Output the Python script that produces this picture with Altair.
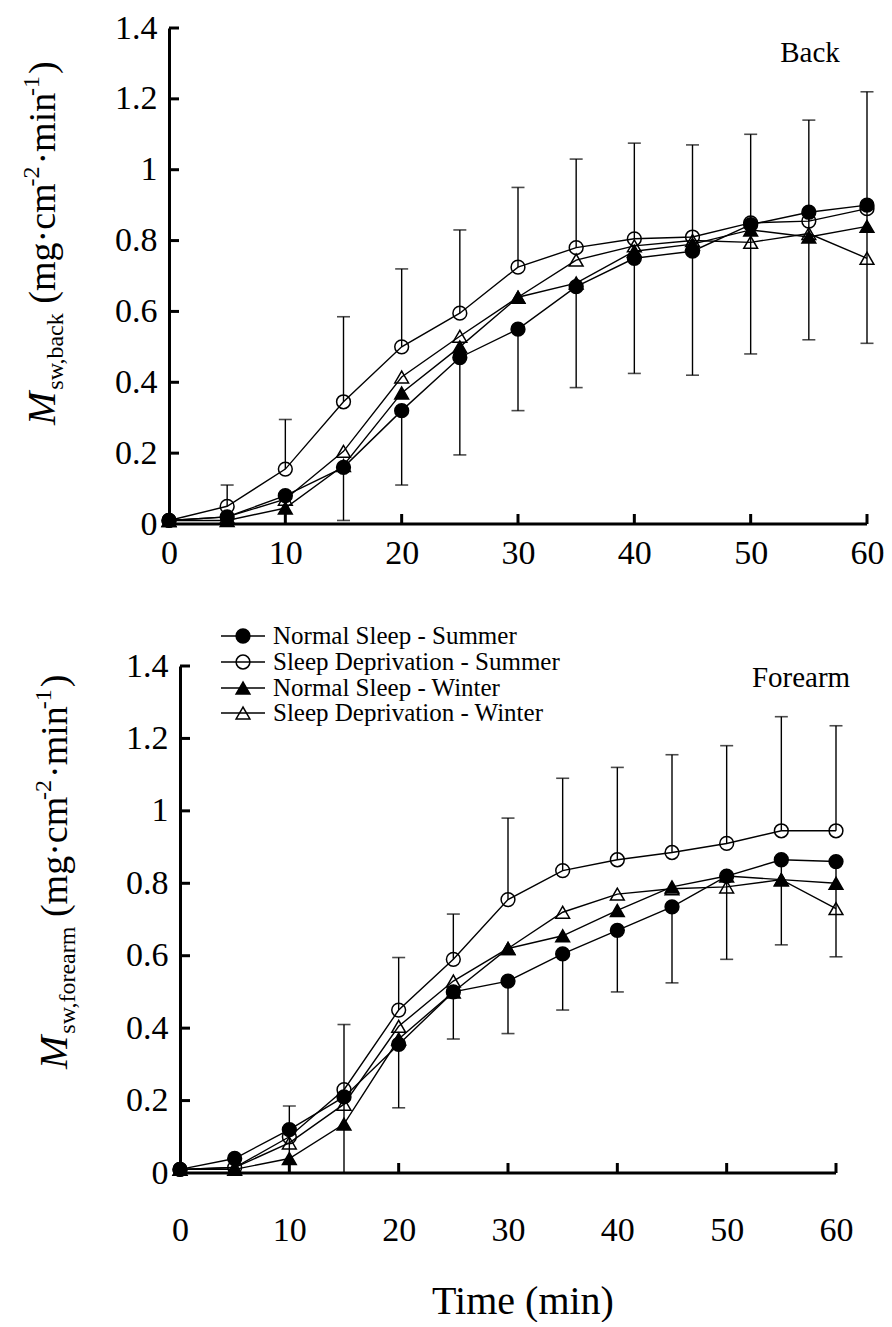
import altair as alt
import pandas as pd

FONT = "Liberation Serif"

times = [0, 5, 10, 15, 20, 25, 30, 35, 40, 45, 50, 55, 60]
series_names = [
    "Normal Sleep - Summer",
    "Sleep Deprivation - Summer",
    "Normal Sleep - Winter",
    "Sleep Deprivation - Winter",
]
x_ticks = [0, 10, 20, 30, 40, 50, 60]
y_ticks = [0, 0.2, 0.4, 0.6, 0.8, 1, 1.2, 1.4]

# ---- Back panel ----
back_ns_summer = [0.01, 0.02, 0.08, 0.16, 0.32, 0.47, 0.55, 0.67, 0.75, 0.77, 0.845, 0.88, 0.90]
back_sd_summer = [0.01, 0.05, 0.155, 0.345, 0.50, 0.595, 0.725, 0.78, 0.805, 0.81, 0.85, 0.855, 0.89]
back_ns_winter = [0.01, 0.01, 0.045, 0.165, 0.37, 0.50, 0.64, 0.68, 0.77, 0.79, 0.83, 0.81, 0.84]
back_sd_winter = [0.01, 0.02, 0.07, 0.205, 0.415, 0.53, 0.64, 0.745, 0.785, 0.80, 0.795, 0.82, 0.75]
back_err_upper = [None, 0.11, 0.295, 0.585, 0.72, 0.83, 0.95, 1.03, 1.075, 1.07, 1.10, 1.14, 1.22]
back_err_lower = [None, 0.0, 0.0, 0.01, 0.11, 0.195, 0.32, 0.385, 0.425, 0.42, 0.48, 0.52, 0.51]

# ---- Forearm panel ----
fa_ns_summer = [0.01, 0.04, 0.12, 0.21, 0.355, 0.50, 0.53, 0.605, 0.67, 0.735, 0.82, 0.865, 0.86]
fa_sd_summer = [0.01, 0.015, 0.10, 0.23, 0.45, 0.59, 0.755, 0.835, 0.865, 0.885, 0.91, 0.945, 0.945]
fa_ns_winter = [0.01, 0.01, 0.04, 0.135, 0.37, 0.50, 0.62, 0.655, 0.725, 0.79, 0.82, 0.81, 0.80]
fa_sd_winter = [0.01, 0.015, 0.083, 0.19, 0.405, 0.53, 0.62, 0.72, 0.77, 0.785, 0.79, 0.81, 0.73]
fa_err_upper = [None, None, 0.185, 0.41, 0.595, 0.715, 0.98, 1.09, 1.12, 1.155, 1.18, 1.26, 1.235]
fa_err_lower = [None, None, 0.0, 0.0, 0.18, 0.37, 0.385, 0.45, 0.50, 0.525, 0.59, 0.63, 0.597]

shape_scale = alt.Scale(domain=series_names,
                        range=["circle", "circle", "triangle-up", "triangle-up"])
fill_scale = alt.Scale(domain=series_names,
                       range=["black", "transparent", "black", "transparent"])
size_scale = alt.Scale(domain=series_names, range=[190, 190, 230, 230])

W_TIMES = {'(': 333, ')': 333, 'm': 778, 'g': 500, 'c': 444, 'i': 278, 'n': 500,
           '·': 250, '-': 333, '2': 500, '1': 500, 's': 389, 'w': 722, ',': 250,
           'b': 500, 'a': 444, 'k': 500, 'f': 333, 'o': 500, 'r': 333, 'e': 444,
           'M': 833, ' ': 250}


def tw(s, fs):
    return sum(W_TIMES.get(c, 500) for c in s) * fs / 1000.0


dummy = pd.DataFrame({"k": [0]})


def text_layer(txt, x, y, fs, angle=0, align="center", baseline="middle", style="normal"):
    kw = dict(text=txt, align=align, baseline=baseline, font=FONT, fontSize=fs,
              fontStyle=style, color="black")
    if angle:
        kw["angle"] = angle
    return alt.Chart(dummy).mark_text(**kw).encode(x=alt.value(x), y=alt.value(y))


def ytitle_layers(bx, by, sub):
    F, S = 38, 24
    pieces = [("M", 40, 0, "italic", 2), (sub, S, 8, "normal", 8),
              ("(mg·cm", F, 0, "normal", 0), ("-2", S, -16, "normal", 2),
              ("·min", F, 0, "normal", 0), ("-1", S, -16, "normal", 2),
              (")", F, 0, "normal", 0)]
    layers = []
    y = by
    for txt, fs, shift, style, gap in pieces:
        layers.append(text_layer(txt, bx + shift, y, fs, angle=270, align="left",
                                 baseline="alphabetic", style=style))
        y -= tw(txt, fs) + gap
    return layers


def build_panel(vals, up, lo, W, H, x0, sub, label, label_xy, xlab_pad,
                legend=False, xtitle=False):
    xmin = -x0 * 60.0 / (W - x0)
    xs = alt.Scale(domain=[xmin, 60], nice=False, zero=False)
    ys = alt.Scale(domain=[0, 1.4], nice=False, zero=False)

    rows = []
    for name, v in zip(series_names, vals):
        for t, val in zip(times, v):
            rows.append({"t": t, "v": val, "series": name})
    df = pd.DataFrame(rows)

    erows = []
    for t, u, l, s_up, s_lo in zip(times, up, lo, vals[1], vals[0]):
        if u is not None:
            erows.append({"t": t, "start": s_up, "end": u})
        if l is not None:
            erows.append({"t": t, "start": s_lo, "end": l})
    edf = pd.DataFrame(erows)

    lines = alt.Chart(df).mark_line(color="black", strokeWidth=1.4).encode(
        x=alt.X("t:Q", scale=xs, axis=alt.Axis(
            values=x_ticks, domain=False, ticks=False, grid=False, title=None,
            labelFont=FONT, labelFontSize=34, labelColor="black",
            labelPadding=xlab_pad, labelFlush=False)),
        y=alt.Y("v:Q", scale=ys, axis=alt.Axis(
            values=y_ticks, format="~g", offset=-x0, domain=True, domainWidth=3,
            domainColor="black", ticks=False, grid=False, title=None,
            labelFont=FONT, labelFontSize=34, labelColor="black",
            labelPadding=12)),
        detail="series:N",
        order="t:Q",
    )
    bars = alt.Chart(edf).mark_rule(color="black", strokeWidth=1.4).encode(
        x=alt.X("t:Q", scale=xs), y=alt.Y("start:Q", scale=ys), y2="end:Q")
    caps = alt.Chart(edf).mark_tick(color="black", orient="horizontal", size=13,
                                    thickness=1.6).encode(
        x=alt.X("t:Q", scale=xs), y=alt.Y("end:Q", scale=ys))
    pts = alt.Chart(df).mark_point(filled=True, stroke="black", strokeWidth=1.5,
                                   opacity=1).encode(
        x=alt.X("t:Q", scale=xs), y=alt.Y("v:Q", scale=ys),
        shape=alt.Shape("series:N", scale=shape_scale, legend=None),
        fill=alt.Fill("series:N", scale=fill_scale, legend=None),
        size=alt.Size("series:N", scale=size_scale, legend=None),
    )
    axis_line = alt.Chart(pd.DataFrame({"a": [0], "b": [60], "c": [0]})).mark_rule(
        color="black", strokeWidth=3).encode(
        x=alt.X("a:Q", scale=xs), x2="b:Q", y=alt.Y("c:Q", scale=ys))
    xt = alt.Chart(pd.DataFrame({"tv": x_ticks[1:]})).mark_rule(
        color="black", strokeWidth=3).encode(
        x=alt.X("tv:Q", scale=xs), y=alt.value(H), y2=alt.value(H - 10))
    yt = alt.Chart(pd.DataFrame({"tv": y_ticks[1:]})).mark_rule(
        color="black", strokeWidth=3).encode(
        y=alt.Y("tv:Q", scale=ys), x=alt.value(x0), x2=alt.value(x0 + 10))

    layers = [axis_line, xt, yt, lines, bars, caps, pts]
    layers += ytitle_layers(*sub)
    layers.append(text_layer(label, label_xy[0], label_xy[1], 29))

    if legend:
        leg_px = [-30, -4, 22, 47]
        ldf = pd.DataFrame({"series": series_names,
                            "ly": [1.4 * (1 - p / H) for p in leg_px]})
        lrule = alt.Chart(ldf).mark_rule(color="black", strokeWidth=1.4).encode(
            y=alt.Y("ly:Q", scale=ys), x=alt.value(54), x2=alt.value(98))
        lpts = alt.Chart(ldf).mark_point(filled=True, stroke="black",
                                         strokeWidth=1.5, opacity=1).encode(
            y=alt.Y("ly:Q", scale=ys), x=alt.value(76),
            shape=alt.Shape("series:N", scale=shape_scale, legend=None),
            fill=alt.Fill("series:N", scale=fill_scale, legend=None),
            size=alt.Size("series:N", scale=size_scale, legend=None))
        ltxt = alt.Chart(ldf).mark_text(align="left", baseline="middle", font=FONT,
                                        fontSize=25, color="black").encode(
            y=alt.Y("ly:Q", scale=ys), x=alt.value(106), text="series:N")
        layers += [lrule, lpts, ltxt]
    if xtitle:
        layers.append(text_layer("Time (min)", 356, 636, 40))

    return alt.layer(*layers).properties(width=W, height=H)


top = build_panel(
    [back_ns_summer, back_sd_summer, back_ns_winter, back_sd_winter],
    back_err_upper, back_err_lower,
    W=700, H=496, x0=2, sub=(-112, 397, "sw,back"),
    label="Back", label_xy=(643, 25), xlab_pad=12)

bottom = build_panel(
    [fa_ns_summer, fa_sd_summer, fa_ns_winter, fa_sd_winter],
    fa_err_upper, fa_err_lower,
    W=669, H=507, x0=13, sub=(-100, 403, "sw,forearm"),
    label="Forearm", label_xy=(634, 12), xlab_pad=40,
    legend=True, xtitle=True)

chart = alt.vconcat(top, bottom, spacing=142, bounds="flush").properties(
    padding={"left": 11, "top": 3, "right": 0, "bottom": 0},
    background="white",
).configure_view(stroke=None)

chart.save("out.html", embed_options={"renderer": "svg", "actions": False})
